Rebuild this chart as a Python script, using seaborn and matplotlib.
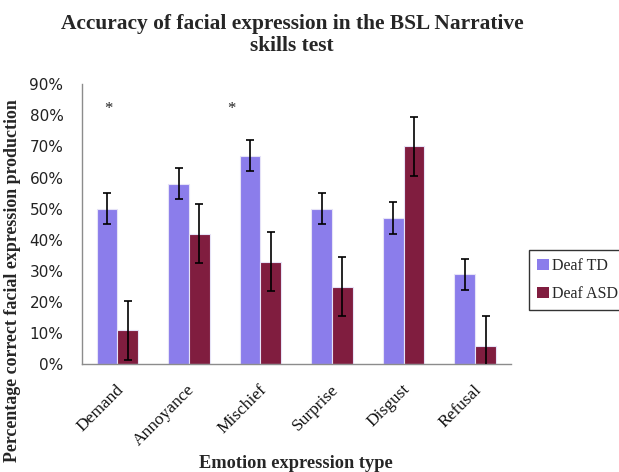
import matplotlib
matplotlib.use("Agg")
import matplotlib.pyplot as plt
import matplotlib.transforms as mtransforms
from matplotlib.ticker import PercentFormatter, MultipleLocator
import numpy as np
import pandas as pd
import seaborn as sns

# values
emotions = ["Demand", "Annoyance", "Mischief", "Surprise", "Disgust", "Refusal"]
groups = ["Deaf TD", "Deaf ASD"]
td_vals = [0.50, 0.58, 0.67, 0.50, 0.47, 0.29]
asd_vals = [0.11, 0.42, 0.33, 0.25, 0.70, 0.06]
td_err = [0.05, 0.05, 0.05, 0.05, 0.05, 0.05]
asd_err = [0.095, 0.095, 0.095, 0.095, 0.095, 0.095]
stars = [(-0.12, 0.82), (1.59, 0.82)]

df = pd.DataFrame({
    "emotion": emotions * 2,
    "group": [groups[0]] * len(emotions) + [groups[1]] * len(emotions),
    "value": td_vals + asd_vals,
})
errs = {groups[0]: td_err, groups[1]: asd_err}
colors = {groups[0]: "#8b7deb", groups[1]: "#801d3f"}

sns.set_theme(style="white")
serif = ["Liberation Serif", "DejaVu Serif"]

fig = plt.figure(figsize=(6.19, 4.72), dpi=100)
ax = fig.add_axes([0.1317, 0.2278, 0.6938, 0.5942])

sns.barplot(data=df, x="emotion", y="value", hue="group", order=emotions,
            hue_order=groups, palette=colors, width=0.58, gap=0,
            errorbar=None, ax=ax, linewidth=0.8, edgecolor="#e6e3f7",
            saturation=1, legend=True)

for cont, g in zip(ax.containers, groups):
    xs = [p.get_x() + p.get_width() / 2 for p in cont]
    hs = [p.get_height() for p in cont]
    ax.errorbar(xs, hs, yerr=errs[g], fmt="none", ecolor="black",
                elinewidth=1.2, capsize=3.2, capthick=1.2, zorder=5)

for sx, sy in stars:
    ax.text(sx, sy, "*", ha="center", va="center", fontsize=12,
            family=serif, color="#222222")

ax.set_xlim(-0.5, len(emotions) - 0.5)
ax.set_ylim(0, 0.9)
ax.yaxis.set_major_locator(MultipleLocator(0.1))
ax.yaxis.set_major_formatter(PercentFormatter(1.0, decimals=0))
ax.set_xlabel("")
ax.set_ylabel("")

for side in ["top", "right"]:
    ax.spines[side].set_visible(False)
for side in ["left", "bottom"]:
    ax.spines[side].set_color("#8c8c8c")
    ax.spines[side].set_linewidth(1.0)

ax.tick_params(axis="y", which="major", direction="out", length=4,
               width=1, color="#8c8c8c", labelsize=11, pad=9,
               labelcolor="#222222")
ax.tick_params(axis="x", length=0, pad=0)
for lab in ax.get_yticklabels():
    lab.set_family(["DejaVu Sans"])

offset = mtransforms.ScaledTranslation(-0.02, -0.17, fig.dpi_scale_trans)
for lab in ax.get_xticklabels():
    lab.set_rotation(45)
    lab.set_ha("right")
    lab.set_va("top")
    lab.set_rotation_mode("anchor")
    lab.set_family(serif)
    lab.set_fontsize(12.5)
    lab.set_color("#111111")
    lab.set_transform(lab.get_transform() + offset)

fig.text(0.472, 0.97, "Accuracy of facial expression in the BSL Narrative\nskills test",
         ha="center", va="top", fontsize=15.4, fontweight="bold", family=serif,
         linespacing=1.15)
fig.text(0.478, 0.019, "Emotion expression type", ha="center", va="center",
         fontsize=13.2, fontweight="bold", family=serif)
fig.text(0.02, 0.405, "Percentage correct facial expression production",
         ha="center", va="center", rotation=90, fontsize=12.9,
         fontweight="bold", family=serif)

leg = ax.legend(loc="upper left", bbox_to_anchor=(0.855, 0.47),
                bbox_transform=fig.transFigure, frameon=True, fancybox=False,
                edgecolor="black", handlelength=0.75,
                handleheight=0.75, handletextpad=0.2, labelspacing=0.75,
                borderpad=0.5, borderaxespad=0, prop={"family": serif, "size": 11.5})
leg.get_frame().set_linewidth(1.0)
for h in leg.legend_handles:
    h.set_edgecolor("none")

fig.savefig("out.png", dpi=100)
